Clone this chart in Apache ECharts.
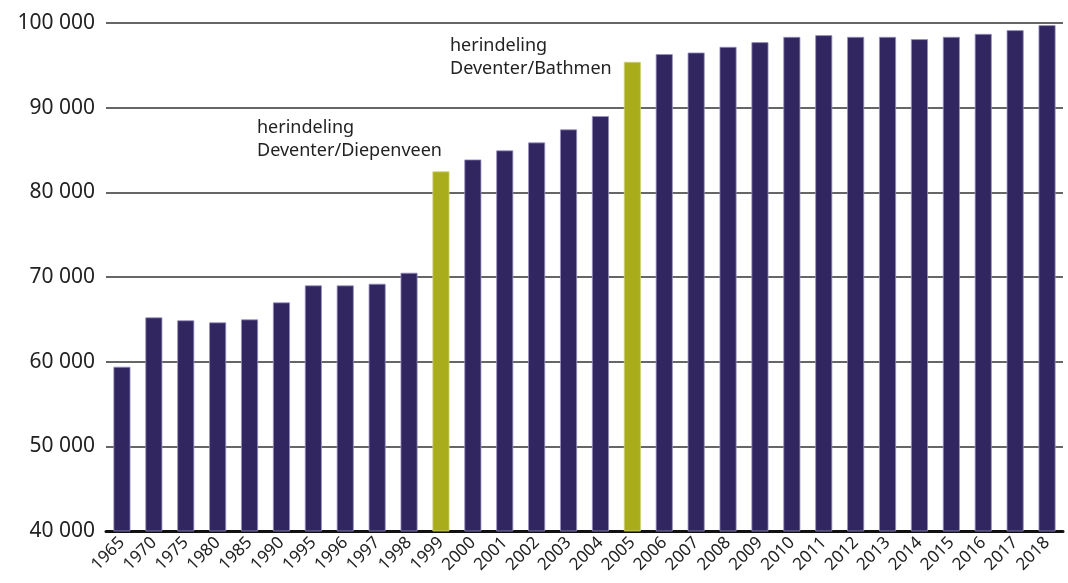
<!DOCTYPE html>
<html>
<head>
<meta charset="utf-8">
<script src="https://cdn.jsdelivr.net/npm/echarts@6/dist/echarts.min.js"></script>
<style>
  html, body { margin: 0; padding: 0; background: #fff; }
  #chart { width: 1068px; height: 583px; }
</style>
</head>
<body>
<div id="chart"></div>
<script>
var years = ['1965', '1970', '1975', '1980', '1985', '1990', '1995', '1996', '1997', '1998',
	'1999', '2000', '2001', '2002', '2003', '2004', '2005', '2006', '2007', '2008',
	'2009', '2010', '2011', '2012', '2013', '2014', '2015', '2016', '2017', '2018'];
var inwoners = [59400, 65230, 64880, 64640, 64990, 67000, 69010, 69000, 69200, 70500,
	82470, 83880, 84950, 85890, 87430, 89000, 95410, 96320, 96510, 97180,
	97730, 98360, 98560, 98360, 98360, 98090, 98360, 98710, 99150, 99740];
// jaren met herindeling krijgen de groene kleur
var herindelingJaren = ['1999', '2005'];
var yTicks = [40000, 50000, 60000, 70000, 80000, 90000, 100000];

var paars = '#31265f';
var groen = '#a9ad1b';
var tekst = '#222';

var myChart = echarts.init(document.getElementById('chart'));

function fmt(v) {
	return String(v).replace(/\B(?=(\d{3})+(?!\d))/g, ' ');
}

var option = {
	animation: false,
	textStyle: { fontFamily: 'Noto Sans' },
	grid: {
		left: 106,
		right: 5,
		top: 23,
		bottom: 52
	},
	xAxis: {
		type: 'category',
		data: years,
		axisTick: { show: false },
		axisLine: { lineStyle: { color: '#111', width: 3 } },
		axisLabel: {
			interval: 0,
			rotate: 45,
			margin: 9,
			fontSize: 17,
			color: tekst
		}
	},
	yAxis: {
		type: 'value',
		min: yTicks[0],
		max: yTicks[yTicks.length - 1],
		interval: 10000,
		axisLine: { show: false },
		axisTick: { show: false },
		splitLine: { lineStyle: { color: '#333', width: 1.5 } },
		axisLabel: {
			fontSize: 21,
			margin: 11,
			color: tekst,
			formatter: fmt
		}
	},
	series: [{
		type: 'bar',
		barWidth: 17,
		data: inwoners.map(function (v, i) {
			return {
				value: v,
				itemStyle: {
					color: herindelingJaren.indexOf(years[i]) >= 0 ? groen : paars,
					borderColor: herindelingJaren.indexOf(years[i]) >= 0 ? '#cfd27a' : '#9890c0',
					borderWidth: 0.8
				}
			};
		})
	}],
	graphic: [{
		type: 'text',
		left: 257,
		top: 116,
		style: {
			text: 'herindeling\nDeventer/Diepenveen',
			font: '18px "Noto Sans"',
			lineHeight: 23,
			fill: tekst
		}
	}, {
		type: 'text',
		left: 450,
		top: 34,
		style: {
			text: 'herindeling\nDeventer/Bathmen',
			font: '18px "Noto Sans"',
			lineHeight: 23,
			fill: tekst
		}
	}]
};
myChart.setOption(option);
</script>
</body>
</html>
